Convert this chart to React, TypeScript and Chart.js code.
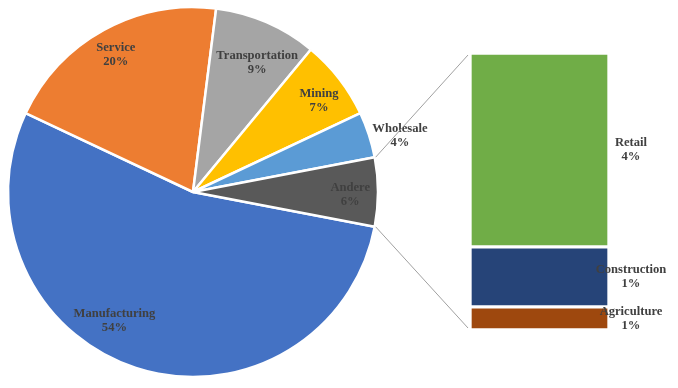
import React, { useEffect, useRef } from "react";
import { Chart, registerables } from "chart.js";

Chart.register(...registerables);

// ---- data ----
const pieLabels = ["Manufacturing", "Service", "Transportation", "Mining", "Wholesale", "Andere"];
const pieValues = [54, 20, 9, 7, 4, 6];
const pieColors = ["#4472C4", "#ED7D31", "#A5A5A5", "#FFC000", "#5B9BD5", "#595959"];

const barLabels = ["Agriculture", "Construction", "Retail"];
const barValues = [0.5, 1.3, 4.2];
const barPercentText = ["1%", "1%", "4%"];
const barColors = ["#9E480E", "#264478", "#70AD47"];

// label placement (angle shift in degrees, radius factor) per pie slice
const pieLabelPlacement = [
  { shift: 13.4, f: 0.815 },
  { shift: -0.6, f: 0.85 },
  { shift: 3, f: 0.78 },
  { shift: 2, f: 0.84 },
  { shift: 2.7, f: 1.16 },
  { shift: 1, f: 0.85 },
];

const W = 678;
const H = 388;
const LABEL_FONT = "bold 12.6px 'Liberation Serif', 'Times New Roman', serif";
const LABEL_COLOR = "#404040";

function drawTwoLines(ctx: CanvasRenderingContext2D, a: string, b: string, x: number, y: number) {
  ctx.save();
  ctx.font = LABEL_FONT;
  ctx.fillStyle = LABEL_COLOR;
  ctx.textAlign = "center";
  ctx.textBaseline = "middle";
  ctx.fillText(a, x, y - 7);
  ctx.fillText(b, x, y + 7);
  ctx.restore();
}

export default function App() {
  const pieRef = useRef<HTMLCanvasElement>(null);
  const barRef = useRef<HTMLCanvasElement>(null);

  useEffect(() => {
    document.body.style.margin = "0";
    if (!pieRef.current || !barRef.current) return;

    const pieLabelPlugin = {
      id: "pieLabels",
      afterDatasetsDraw(chart: any) {
        const ctx = chart.ctx;
        const meta = chart.getDatasetMeta(0);
        meta.data.forEach((arc: any, i: number) => {
          const p = pieLabelPlacement[i];
          const mid = (arc.startAngle + arc.endAngle) / 2 + (p.shift * Math.PI) / 180;
          const r = arc.outerRadius * p.f;
          const x = arc.x + Math.cos(mid) * r;
          const y = arc.y + Math.sin(mid) * r;
          drawTwoLines(ctx, pieLabels[i], Math.round(pieValues[i]) + "%", x, y);
        });
      },
    };

    const pie = new Chart(pieRef.current, {
      type: "pie",
      data: {
        labels: pieLabels,
        datasets: [
          {
            data: pieValues,
            backgroundColor: pieColors,
            borderColor: "#FFFFFF",
            borderWidth: 2.5,
            hoverOffset: 0,
            offset: 0,
          },
        ],
      },
      options: {
        responsive: false,
        animation: false,
        rotation: 100.8,
        radius: 185,
        layout: { padding: { left: 9, right: 301, top: 8, bottom: 12 } },
        plugins: { legend: { display: false }, tooltip: { enabled: false } },
        events: [],
      } as any,
      plugins: [pieLabelPlugin],
    });

    const barPlugin = {
      id: "barLabelsAndConnectors",
      afterDatasetsDraw(chart: any) {
        const ctx = chart.ctx;
        // labels
        barLabels.forEach((lab, i) => {
          const el: any = chart.getDatasetMeta(i).data[0];
          const cy = (el.y + el.base) / 2;
          drawTwoLines(ctx, lab, barPercentText[i], 631, cy);
        });
        // connectors from the "Andere" slice to the bar
        const arcs: any[] = pie.getDatasetMeta(0).data as any[];
        const arc: any = arcs[arcs.length - 1];
        const rr = arc.outerRadius + 1;
        const sx = arc.x + Math.cos(arc.startAngle) * rr;
        const sy = arc.y + Math.sin(arc.startAngle) * rr;
        const ex = arc.x + Math.cos(arc.endAngle) * rr;
        const ey = arc.y + Math.sin(arc.endAngle) * rr;
        const topEl: any = chart.getDatasetMeta(barLabels.length - 1).data[0];
        const botEl: any = chart.getDatasetMeta(0).data[0];
        const leftX = topEl.x - topEl.width / 2 - 2;
        ctx.save();
        ctx.strokeStyle = "#A0A0A0";
        ctx.lineWidth = 1;
        ctx.beginPath();
        ctx.moveTo(sx, sy);
        ctx.lineTo(leftX, topEl.y + 2);
        ctx.moveTo(ex, ey);
        ctx.lineTo(leftX, botEl.base - 2);
        ctx.stroke();
        ctx.restore();
      },
    };

    const bar = new Chart(barRef.current, {
      type: "bar",
      data: {
        labels: ["Andere"],
        datasets: barLabels.map((lab, i) => ({
          label: lab,
          data: [barValues[i]],
          backgroundColor: barColors[i],
          borderColor: "#FFFFFF",
          borderWidth: 2,
          borderSkipped: false,
          barPercentage: 1,
          categoryPercentage: 1,
        })),
      },
      options: {
        responsive: false,
        animation: false,
        layout: { padding: { left: 470, right: 69, top: 53, bottom: 58 } },
        scales: {
          x: { stacked: true, display: false },
          y: {
            stacked: true,
            display: false,
            min: 0,
            max: barValues.reduce((a, b) => a + b, 0),
          },
        },
        plugins: { legend: { display: false }, tooltip: { enabled: false } },
        events: [],
      } as any,
      plugins: [barPlugin],
    });

    return () => {
      bar.destroy();
      pie.destroy();
    };
  }, []);

  return (
    <div style={{ position: "relative", width: W, height: H, background: "#FFFFFF" }}>
      <canvas ref={pieRef} width={W} height={H} style={{ position: "absolute", left: 0, top: 0 }} />
      <canvas ref={barRef} width={W} height={H} style={{ position: "absolute", left: 0, top: 0 }} />
    </div>
  );
}
